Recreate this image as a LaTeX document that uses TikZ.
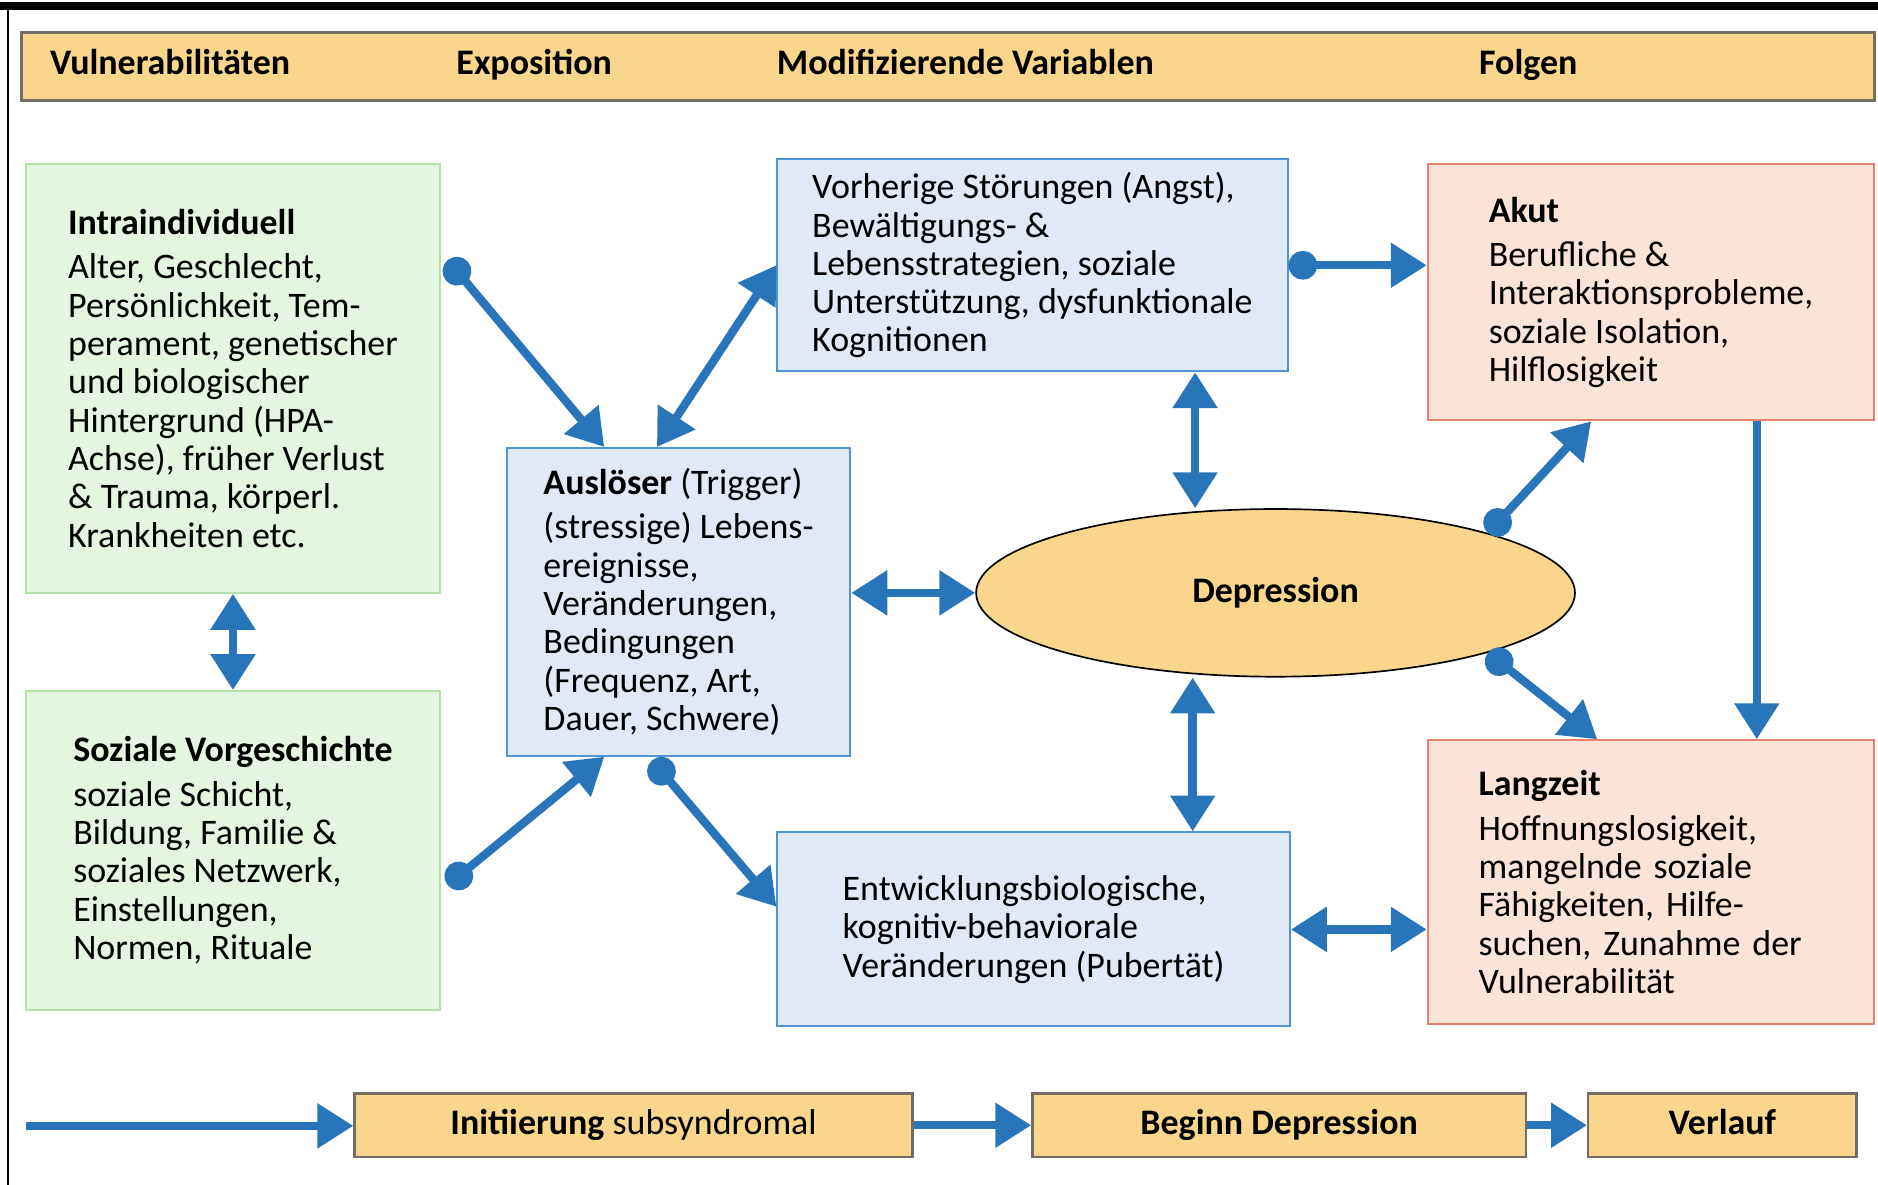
\documentclass[tikz,border=0pt]{standalone}
\usepackage{fontspec}
\setmainfont{Carlito}
\usepackage{tikz}
\usetikzlibrary{positioning,calc}
\usetikzlibrary{shapes.geometric,arrows.meta}
\definecolor{arrowblue}{RGB}{40,118,185}
\definecolor{bandfill}{RGB}{249,214,139}
\definecolor{bandline}{RGB}{115,110,100}
\definecolor{greenfill}{RGB}{228,245,224}
\definecolor{greenline}{RGB}{180,225,168}
\definecolor{bluefill}{RGB}{225,232,246}
\definecolor{blueline}{RGB}{80,148,212}
\definecolor{redfill}{RGB}{250,228,216}
\definecolor{redline}{RGB}{232,128,110}

\begin{document}
\begin{tikzpicture}[x=0.5pt,y=-0.5pt,on grid,
    font=\fontsize{15}{16}\selectfont,
    flow/.style={line width=3.5pt,color=arrowblue,-{Triangle[length=15pt,width=18pt]}},
    both/.style={flow,{Triangle[length=15pt,width=18pt]}-{Triangle[length=15pt,width=18pt]}},
    dotflow/.style={flow,{Circle[length=12pt]}-{Triangle[length=15pt,width=18pt]}}]
    \tikzset{band/.style={draw=bandline,fill=bandfill,line width=1pt,inner sep=0pt,text height=11pt,text depth=3pt,font=\fontsize{15}{16}\selectfont\bfseries},
        label/.style={inner sep=0pt,anchor=base,font=\fontsize{15}{16}\selectfont\bfseries},
        greenbox/.style={draw=greenline,fill=greenfill,line width=0.8pt,align=left,inner sep=0pt,minimum width=172.5pt},
        bluebox/.style={draw=blueline,fill=bluefill,line width=0.8pt,align=left,inner sep=0pt},
        redbox/.style={draw=redline,fill=redfill,line width=0.8pt,align=left,inner sep=0pt,minimum width=186.5pt}}
    \useasboundingbox (0,0) rectangle (1568,989);
    \draw[line width=3pt] (0,5) -- (1568,5);
    \draw[line width=0.8pt] (7,5) -- (7,989);

    \node[band,minimum width=773.5pt,minimum height=28.5pt] (head) at (791.5,55.5) {};
    \node[label] (vul) at (142,62) {Vulnerabilitäten};
    \node[label] (expo) at (446,62) {Exposition};
    \node[label] (modi) at (806,62) {Modifizierende Variablen};
    \node[label] (folg) at (1276,62) {Folgen};

    \node[greenbox,minimum height=179pt] (intra) at (194.5,316) {\textbf{Intraindividuell}\\[2.5pt]
        Alter, Geschlecht,\\
        Persönlichkeit, Tem-\\
        perament, genetischer\\
        und biologischer\\
        Hintergrund (HPA-\\
        Achse), früher Verlust\\
        \& Trauma, körperl.\\
        Krankheiten etc.};
    \node[greenbox,minimum height=133pt] (soz) [below = 197pt of intra] {\textbf{Soziale Vorgeschichte}\\[2.5pt]
        soziale Schicht,\\
        Bildung, Familie \&\\
        soziales Netzwerk,\\
        Einstellungen,\\
        Normen, Rituale};
    \node[bluebox,minimum width=143.5pt,minimum height=128.5pt] (ausl) at (566.5,502.5) {\textbf{Auslöser} (Trigger)\\[2.5pt]
        (stressige) Lebens-\\
        ereignisse,\\
        Veränderungen,\\
        Bedingungen\\
        (Frequenz, Art,\\
        Dauer, Schwere)};
    \node[bluebox,minimum width=213pt,minimum height=88.5pt] (vorh) at (862,221.5) {Vorherige Störungen (Angst),\\
        Bewältigungs- \&\\
        Lebensstrategien, soziale\\
        Unterstützung, dysfunktionale\\
        Kognitionen};
    \node[bluebox,minimum width=214pt,minimum height=81pt] (entw) at (863,776) {Entwicklungsbiologische,\\
        kognitiv-behaviorale\\
        Veränderungen (Pubertät)};
    \node[ellipse,draw,line width=0.7pt,fill=bandfill,minimum width=250pt,minimum height=70pt,
        font=\fontsize{15}{16}\selectfont\bfseries] (depr) at (1065,495) {Depression};
    \node[redbox,minimum height=107pt] (akut) at (1378.5,244) {\textbf{Akut}\\[2.5pt]
        Berufliche \&\\
        Interaktionsprobleme,\\
        soziale Isolation,\\
        Hilflosigkeit};
    \node[redbox,minimum height=118.5pt,text width=144pt] (lang) [below = 246.25pt of akut] {\textbf{Langzeit}\\[2.5pt]
        Hoffnungslosigkeit,\\
        mangelnde soziale\\
        Fähigkeiten, Hilfe-\\
        suchen, Zunahme der\\
        Vulnerabilität};

    \coordinate (start) at (22,940);
    \node[band,minimum width=233pt,minimum height=26.5pt] (init) at (529,939.5) {Initiierung \mdseries subsyndromal};
    \node[band,minimum width=206pt,minimum height=26.5pt] (begi) [right = 269.5pt of init] {Beginn Depression};
    \node[band,minimum width=112pt,minimum height=26.5pt] (verl) [right = 185pt of begi] {Verlauf};

    \coordinate (vdtop) at ($(vorh.south east)+(-78,0)$);
    \coordinate (edbot) at ($(entw.north east)+(-82,0)$);
    \coordinate (altop) at ($(akut.south east)+(-99,0)$);

    \path[dotflow] ($(intra.north east)+(6,81)$) edge ($(ausl.north)+(-62,0)$)
        ($(soz.east)+(6,29)$) edge ($(ausl.south)+(-62,0)$)
        ($(ausl.south)+(-22,3)$) edge ($(entw.west)+(0,-19)$)
        (vorh.east) edge (vorh.east -| akut.west)
        (depr.north east) edge ($(akut.south)+(-50,0)$)
        (depr.south east) edge ($(lang.north)+(-45,0)$);
    \path[both] (intra.south) edge (soz.north)
        ($(ausl.north)+(-18,0)$) edge (vorh.west)
        (depr.west -| ausl.east) edge (depr.west)
        (vdtop) edge (vdtop |- depr.north)
        (edbot) edge (edbot |- depr.south)
        (entw.east) edge (entw.east -| lang.west);
    \path[flow] (altop) edge (altop |- lang.north)
        (start) edge (start -| init.west)
        (init) edge (begi)
        (begi) edge (verl);
\end{tikzpicture}
\end{document}
